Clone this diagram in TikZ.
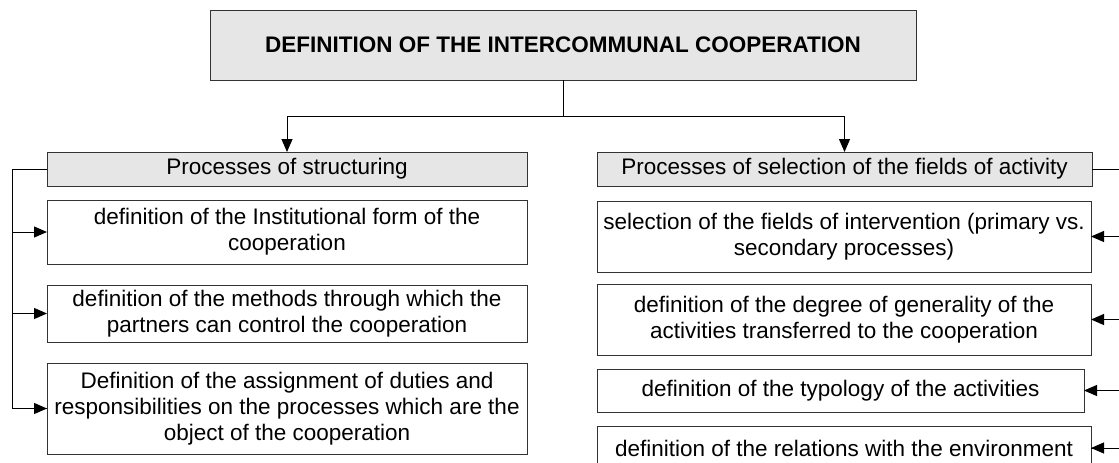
\documentclass[tikz,border=0pt]{standalone}
\usepackage{fontspec}
\setmainfont{Liberation Sans}
\usetikzlibrary{arrows.meta}
\definecolor{hdrgray}{HTML}{E6E6E6}
\definecolor{edgegray}{HTML}{333333}
\tikzset{
  box/.style={draw=edgegray, line width=0.9pt, fill=white, inner sep=0pt, outer sep=0pt, align=center,
    font=\fontsize{22.5}{26}\selectfont},
  hdr/.style={box, fill=hdrgray},
  conn/.style={draw=black, line width=1pt},
  arr/.style={conn, -{Triangle[length=13pt,width=11pt]}},
}
\begin{document}
\begin{tikzpicture}[x=1pt,y=-1pt]
\useasboundingbox (0,0) rectangle (1119,463);
% title
\node[hdr, minimum width=706pt, minimum height=70pt, font=\fontsize{22.5}{26}\selectfont\bfseries] (top) at (563,45) {DEFINITION OF THE INTERCOMMUNAL COOPERATION};
% left column
\node[hdr, minimum width=480pt, minimum height=34pt] (hL) at (287,169) {Processes of structuring};
\node[box, minimum width=480pt, minimum height=64pt] (l1) at (287,232) {definition of the Institutional form of the\\cooperation};
\node[box, minimum width=480pt, minimum height=57pt] (l2) at (287,313.5) {definition of the methods through which the\\partners can control the cooperation};
\node[box, minimum width=480pt, minimum height=91pt] (l3) at (287,408.5) {Definition of the assignment of duties and\\responsibilities on the processes which are the\\object of the cooperation};
% right column
\node[hdr, minimum width=495pt, minimum height=34pt] (hR) at (844.5,169) {Processes of selection of the fields of activity};
\node[box, minimum width=494pt, minimum height=71pt] (r1) at (844,236.5) {selection of the fields of intervention (primary vs.\\secondary processes)};
\node[box, minimum width=494pt, minimum height=71pt] (r2) at (844,319.5) {definition of the degree of generality of the\\activities transferred to the cooperation};
\node[box, minimum width=487pt, minimum height=43pt] (r3) at (840.5,390.5) {definition of the typology of the activities};
\node[box, minimum width=494pt, minimum height=44pt] (r4) at (844,448) {definition of the relations with the environment};
% top connectors
\coordinate (split) at (563,116);
\draw[conn] (top.south) -- (split);
\draw[arr] (split) -| (hL.north);
\draw[arr] (split) -| (hR.north);
% left bracket
\coordinate (LL) at (12,169);
\draw[conn] (hL.west) -- (LL) |- (l3.west);
\draw[arr] (LL) |- (l3.west);
\draw[arr] (LL) |- (l1.west);
\draw[arr] (LL) |- (l2.west);
% right bracket (its vertical lies just past the picture's edge)
\coordinate (RR) at (1124,169);
\draw[conn] (hR.east) -- (RR) |- (r4.east);
\draw[arr] (RR) |- (r1.east);
\draw[arr] (RR) |- (r2.east);
\draw[arr] (RR) |- (r3.east);
\draw[arr] (RR) |- (r4.east);
\end{tikzpicture}
\end{document}
